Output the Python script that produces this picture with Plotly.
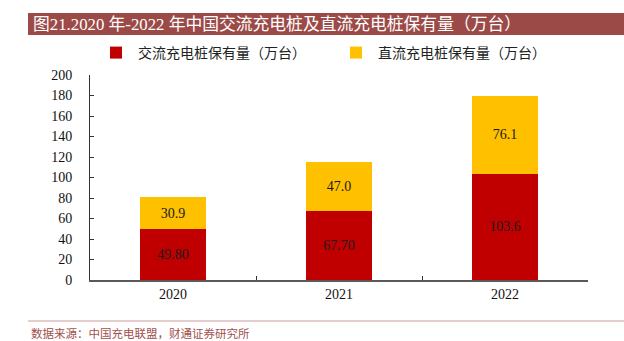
import plotly.graph_objects as go

years = ["2020", "2021", "2022"]
ac_values = [49.80, 67.70, 103.6]
dc_values = [30.9, 47.0, 76.1]
ac_labels = ["49.80", "67.70", "103.6"]
dc_labels = ["30.9", "47.0", "76.1"]
y_ticks = [0, 20, 40, 60, 80, 100, 120, 140, 160, 180, 200]

W, H = 624, 341
L, R, T, B = 90, 36, 75, 61
pw, ph = W - L - R, H - T - B

def px_x(x):
    return (x - L) / pw

def px_y(y):
    return (H - B - y) / ph

serif = "Liberation Serif, Times New Roman, serif"
cjk = "Noto Sans CJK SC, sans-serif"

fig = go.Figure()
fig.add_trace(go.Bar(
    x=years, y=ac_values, name="交流充电桩保有量（万台）",
    marker=dict(color="#C00000", line=dict(width=0)),
    text=ac_labels, textposition="inside", insidetextanchor="middle",
    textfont=dict(family=serif, size=14, color="#1a1a1a"),
    hoverinfo="skip",
))
fig.add_trace(go.Bar(
    x=years, y=dc_values, name="直流充电桩保有量（万台）",
    marker=dict(color="#FFC000", line=dict(width=0)),
    text=dc_labels, textposition="inside", insidetextanchor="middle",
    textfont=dict(family=serif, size=14, color="#1a1a1a"),
    hoverinfo="skip",
))

fig.update_layout(
    width=W, height=H,
    margin=dict(l=L, r=R, t=T, b=B),
    barmode="stack", bargap=0.6,
    plot_bgcolor="white", paper_bgcolor="white",
    showlegend=True,
    legend=dict(
        orientation="h", x=px_x(94), xanchor="left", y=px_y(53), yanchor="middle",
        font=dict(family=cjk, size=14, color="#222"),
        entrywidth=191, entrywidthmode="pixels", traceorder="normal",
        itemwidth=34, bgcolor="rgba(0,0,0,0)",
    ),
)

fig.update_xaxes(
    showline=True, linecolor="#595959", linewidth=1.5,
    ticks="inside", tickson="boundaries", ticklen=4, tickcolor="#333",
    tickfont=dict(family=serif, size=14, color="#111"),
    showgrid=False, zeroline=False,
)
fig.update_yaxes(
    range=[0, 200], tickvals=y_ticks,
    showline=True, linecolor="#333", linewidth=1,
    ticks="inside", ticklen=4, tickcolor="#333",
    tickfont=dict(family=serif, size=14, color="#111"),
    ticklabelstandoff=14,
    showgrid=False, zeroline=False,
)

# Title band
fig.add_shape(type="rect", xref="paper", yref="paper",
              x0=px_x(28), x1=px_x(624), y0=px_y(35), y1=px_y(13),
              fillcolor="#9C4A48", line=dict(width=0), layer="below")
fig.add_annotation(
    xref="paper", yref="paper", x=px_x(31), y=px_y(24),
    xanchor="left", yanchor="middle", showarrow=False,
    text="图21.2020 年-2022 年中国交流充电桩及直流充电桩保有量（万台）",
    font=dict(family="Liberation Serif, Noto Sans CJK SC", size=16.8, color="white"),
)

# Footer line and source
fig.add_shape(type="line", xref="paper", yref="paper",
              x0=px_x(28), x1=px_x(624), y0=px_y(321), y1=px_y(321),
              line=dict(color="#C89A99", width=1))
fig.add_annotation(
    xref="paper", yref="paper", x=px_x(29), y=px_y(333),
    xanchor="left", yanchor="middle", showarrow=False,
    text="数据来源：中国充电联盟，财通证券研究所",
    font=dict(family=cjk, size=11.5, color="#A0504D"),
)

fig.write_html("out.html")
